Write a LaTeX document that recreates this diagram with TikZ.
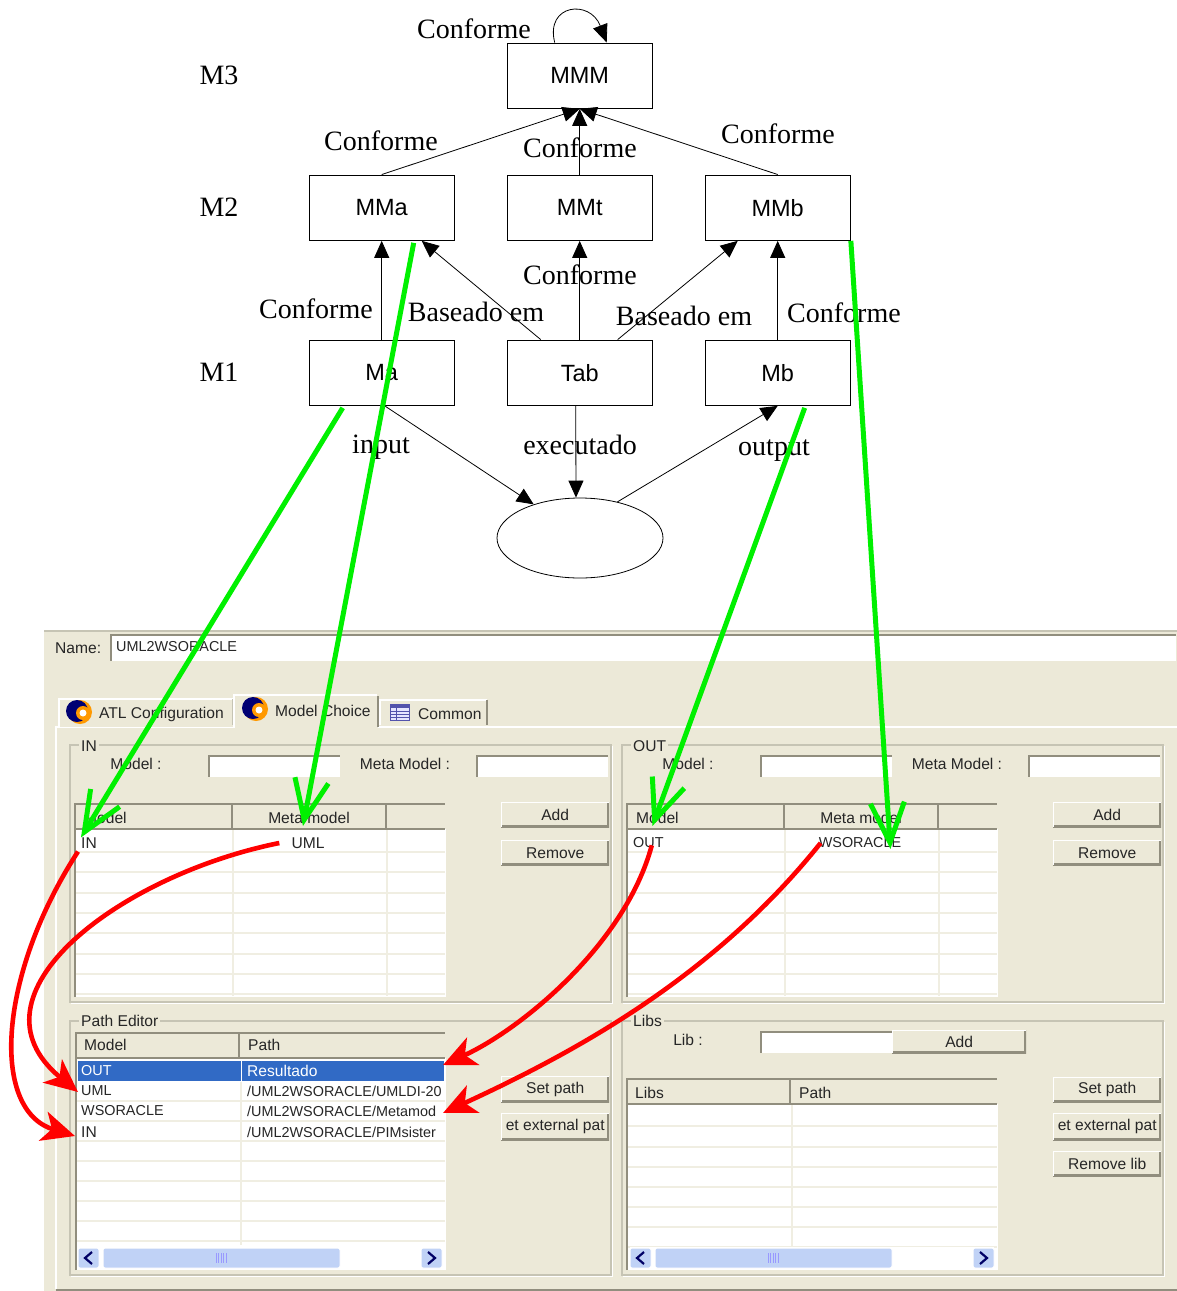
\documentclass[tikz,border=0pt]{standalone}
\usepackage{fontspec}
\setmainfont{Liberation Serif}
\setsansfont{Liberation Sans}
\usetikzlibrary{calc,arrows.meta,shapes.geometric}

\definecolor{guibg}{HTML}{ECE9D8}
\definecolor{guidark}{HTML}{918E7E}
\definecolor{guiline}{HTML}{C6C4B4}
\definecolor{guirow}{HTML}{F0EEE2}
\definecolor{selblue}{HTML}{316AC5}
\definecolor{scrollblue}{HTML}{C0D2F6}
\definecolor{arrowgreen}{HTML}{00F000}

\tikzset{
  level/.style={font=\fontsize{28}{30}\selectfont,inner sep=0pt},
  lbl/.style={font=\fontsize{28}{30}\selectfont,inner sep=0pt},
  box/.style={draw,line width=0.8pt,minimum width=145.5pt,minimum height=65.5pt,inner sep=0pt,
    font=\sffamily\fontsize{23.5}{26}\selectfont},
  link/.style={line width=0.8pt,-{Triangle[length=17pt,width=15pt]}},
  gref/.style={arrowgreen,line width=5pt,-{Straight Barb[length=40pt,width=34pt]}},
  rref/.style={red,line width=4.6pt,-{Stealth[length=33pt,width=30pt,inset=9pt]}},
  gui/.style={font=\sffamily\fontsize{15.6}{18}\selectfont,text=black!85,inner sep=0pt},
  guil/.style={gui,anchor=west},
  caps/.style={font=\sffamily\fontsize{14.4}{18}\selectfont},
  bevel/.style={gui,fill=guibg,inner sep=0pt,anchor=north west,
    path picture={
      \draw[guidark,line width=4pt] (path picture bounding box.south west) -- (path picture bounding box.south east) -- (path picture bounding box.north east);
      \draw[white,line width=2.5pt] (path picture bounding box.south west) -- (path picture bounding box.north west) -- (path picture bounding box.north east);
    }},
  field/.style={fill=white,inner sep=0pt,anchor=north west,
    path picture={
      \draw[guidark,line width=3.5pt] (path picture bounding box.south west) -- (path picture bounding box.north west) -- (path picture bounding box.north east);
    }},
  group/.style={draw=guiline,line width=1.2pt},
  grouplabel/.style={gui,fill=guibg,inner xsep=2pt,anchor=west},
  sunken/.style={draw=guidark,line width=2pt},
  rowline/.style={guirow,line width=1.6pt},
  headline/.style={guidark,line width=2.4pt},
  scrollbtn/.style={fill=scrollblue,draw=white,line width=1pt,rounded corners=2pt},
  chevron/.style={draw=black!60!blue,line width=2.2pt}
}

\begin{document}
\begin{tikzpicture}[x=1pt,y=-1pt]
\useasboundingbox (0,0) rectangle (1177,1291);

% Window
\fill[guibg] (44,630) rectangle (1177,1291);
\draw[guiline,line width=1.5pt] (44,631) -- (1177,631);
\draw[white,line width=1.5pt] (56,1289) -- (56,727) -- (233,727);
\draw[white,line width=1.5pt] (378,727) -- (1177,727);
\draw[guidark,line width=2pt] (56,1290) -- (1177,1290);

\node[guil] (nameLbl) at (55,648) {Name:};
\node[field,minimum width=1066pt,minimum height=27pt] (nameField) at (110,634) {};
\node[guil,caps] (nameText) at (116,647) {UML2WSORACLE};

% Tabs
\fill[guibg] (59,699) rectangle (233,727);
\draw[white,line width=1.5pt] (59,727) -- (59,699) -- (233,699);
\draw[guiline,line width=1.5pt] (233,699) -- (233,725);
\fill[guibg] (234,695) rectangle (378,728);
\draw[white,line width=1.5pt] (234,728) -- (234,695) -- (377,695);
\draw[guidark,line width=2pt] (378,696) -- (378,727);
\draw[white,line width=1.5pt] (380,725) -- (380,700) -- (487,700);
\draw[guidark,line width=2pt] (487,700) -- (487,725);
\foreach \ix/\iy in {79/712,255/709}{
  \fill[orange!80!yellow] (\ix+1,\iy) circle (12);
  \fill[blue!45!black] (\ix-2,\iy-1) circle (11);
  \fill[orange!80!yellow] (\ix+4,\iy+1) circle (7);
  \fill[white] (\ix+4,\iy+1) circle (3.5);
}
\draw[blue!35!gray,fill=blue!10,line width=1pt] (390,704) rectangle (409,720);
\fill[blue!35!gray] (390,704) rectangle (409,708);
\foreach \iy in {711,714,717} \draw[blue!35!gray,line width=.8pt] (390,\iy) -- (409,\iy);
\draw[blue!35!gray,line width=.8pt] (396,708) -- (396,720);
\node[guil] (tabAtl) at (99,714) {ATL Configuration};
\node[guil] (tabModel) at (275,711) {Model Choice};
\node[guil] (tabCommon) at (418,714) {Common};

% IN and OUT groups
\foreach \pre/\title/\sh in {in/IN/0,out/OUT/552}{
\begin{scope}[xshift=\sh pt]
\draw[group] (70,745) rectangle (611,1002);
\draw[white,line width=1pt] (71,1003) -- (612,1003) -- (612,746);
\node[grouplabel] (\pre Group) at (79,746) {\title};
\node[gui] (\pre ModelLbl) at (136,764) {Model :};
\node[field,minimum width=132pt,minimum height=22pt] (\pre ModelField) at (208,755) {};
\node[gui] (\pre MetaLbl) at (405,764) {Meta Model :};
\node[field,minimum width=132pt,minimum height=22pt] (\pre MetaField) at (476,755) {};
\fill[white] (75,829) rectangle (446,997);
\fill[guibg] (75,804) rectangle (446,829);
\foreach \iy in {852,872,893,913,933,954,974,994} \draw[rowline] (76,\iy) -- (445,\iy);
\draw[rowline] (233,830) -- (233,996);
\draw[rowline] (387,830) -- (387,996);
\draw[headline] (75,829) -- (445,829);
\draw[headline] (232,805) -- (232,828);
\draw[headline] (386,805) -- (386,828);
\draw[sunken] (75,997) -- (75,804) -- (445,804);
\node[guil] (\pre HeadModel) at (84,818) {Model};
\node[gui] (\pre HeadMeta) at (309,818) {Meta model};
\node[bevel,minimum width=108pt,minimum height=25pt] (\pre Add) at (501,802) {Add};
\node[bevel,minimum width=108pt,minimum height=25pt] (\pre Remove) at (501,840) {Remove};
\end{scope}
}
\node[guil] (inRowName) at (81,843) {IN};
\node[gui] (inRowMeta) at (308,843) {UML};
\node[guil,caps] (outRowName) at (633,843) {OUT};
\node[gui,caps] (outRowMeta) at (860,843) {WSORACLE};

% Path editor group
\draw[group] (70,1021) rectangle (611,1275);
\draw[white,line width=1pt] (71,1276) -- (612,1276) -- (612,1022);
\node[grouplabel] (pathGroup) at (79,1021) {Path Editor};
\fill[white] (76,1058) rectangle (446,1270);
\fill[guibg] (76,1033) rectangle (446,1058);
\fill[selblue] (78,1061) rectangle (444,1081);
\foreach \iy in {1101,1121,1141,1161,1181,1201,1221,1241} \draw[rowline] (76,\iy) -- (445,\iy);
\draw[rowline] (241,1082) -- (241,1245);
\draw[white,line width=1pt] (241,1060) -- (241,1081);
\draw[headline] (76,1058) -- (445,1058);
\draw[headline] (239,1034) -- (239,1057);
\draw[sunken] (76,1270) -- (76,1033) -- (445,1033);
\node[guil] (pathHeadModel) at (84,1045) {Model};
\node[guil] (pathHeadPath) at (248,1045) {Path};
\node[guil,caps,text=white] (pathRowOut) at (81,1071) {OUT};
\node[guil,text=white] (pathValOut) at (247,1071) {Resultado};
\node[guil,caps] (pathRowUml) at (81,1091) {UML};
\node[guil,caps] (pathRowWs) at (81,1111) {WSORACLE};
\node[guil] (pathRowIn) at (81,1132) {IN};
\begin{scope}
\clip (242,1082) rectangle (444,1145);
\node[guil,caps] (pathValUml) at (247,1091) {/UML2WSORACLE/UMLDI-20};
\node[guil,caps] (pathValWs) at (247,1111) {/UML2WSORACLE/Metamod};
\node[guil,caps] (pathValIn) at (247,1132) {/UML2WSORACLE/PIMsister};
\end{scope}
\node[bevel,minimum width=108pt,minimum height=26pt] (pathSet) at (501,1076) {Set path};
\node[bevel,minimum width=108pt,minimum height=27pt] (pathExt) at (501,1113) {et external pat};
\coordinate (pathOutEnd) at (443,1065);
\coordinate (pathWsEnd) at (443,1113);

% Libs group
\draw[group] (622,1021) rectangle (1163,1275);
\draw[white,line width=1pt] (623,1276) -- (1164,1276) -- (1164,1022);
\node[grouplabel] (libsGroup) at (631,1021) {Libs};
\node[gui] (libLbl) at (688,1040) {Lib :};
\node[field,minimum width=132pt,minimum height=22pt] (libField) at (760,1031) {};
\node[bevel,minimum width=134pt,minimum height=23pt] (libAdd) at (892,1030) {Add};
\fill[white] (627,1104) rectangle (998,1270);
\fill[guibg] (627,1079) rectangle (998,1104);
\foreach \iy in {1126,1147,1167,1187,1207,1227,1247} \draw[rowline] (627,\iy) -- (997,\iy);
\draw[rowline] (792,1105) -- (792,1247);
\draw[headline] (627,1104) -- (997,1104);
\draw[headline] (790,1080) -- (790,1103);
\draw[sunken] (627,1270) -- (627,1079) -- (997,1079);
\node[guil] (libsHeadLibs) at (635,1093) {Libs};
\node[guil] (libsHeadPath) at (799,1093) {Path};
\node[bevel,minimum width=108pt,minimum height=25pt] (libsSet) at (1053,1077) {Set path};
\node[bevel,minimum width=108pt,minimum height=27pt] (libsExt) at (1053,1113) {et external pat};
\node[bevel,minimum width=108pt,minimum height=25pt] (libsRemove) at (1053,1151) {Remove lib};

% Scroll bars
\foreach \sh in {0,552}{
\begin{scope}[xshift=\sh pt]
\fill[white] (78,1247) rectangle (442,1270);
\draw[scrollbtn] (78,1248) rectangle (99,1268);
\draw[scrollbtn] (421,1248) rectangle (442,1268);
\draw[scrollbtn] (103,1248) rectangle (340,1268);
\draw[chevron] (92,1252) -- (85,1258) -- (92,1264);
\draw[chevron] (428,1252) -- (435,1258) -- (428,1264);
\foreach \ix in {216,218.5,221,223.5,226} \draw[blue!40,line width=.8pt] (\ix,1253) -- (\ix,1263);
\end{scope}
}

% M3
\node[level] (levelMiii) at (219,75) {M3};
\node[box] (MMM) at (579.7,75.7) {MMM};
\node[lbl] (lblSelf) at (474,29) {Conforme};
\draw[line width=0.8pt,-{Triangle[length=18pt,width=15pt]}] ([xshift=-25pt]MMM.north) .. controls (545,4) and (590,-1) .. ([xshift=27pt]MMM.north);

% M2
\node[level] (levelMii) at (219,207) {M2};
\node[box] (MMa) at (381.7,207.7) {MMa};
\node[box] (MMt) at (579.7,207.7) {MMt};
\node[box] (MMb) at (777.7,207.7) {MMb};
\node[lbl] (lblA) at (381,141) {Conforme};
\node[lbl] (lblT) at (580,148) {Conforme};
\node[lbl] (lblB) at (778,134) {Conforme};
\draw[link] (MMa.north) -- (MMM.south);
\draw[link] (MMt.north) -- (MMM.south);
\draw[link] (MMb.north) -- (MMM.south);

% M1
\node[level] (levelMi) at (219,372) {M1};
\node[box] (Ma) at (381.7,372.7) {Ma};
\node[box] (Tab) at (579.7,372.7) {Tab};
\node[box] (Mb) at (777.7,372.7) {Mb};
\node[lbl] (lblMa) at (316,309) {Conforme};
\node[lbl] (lblTab) at (580,275) {Conforme};
\node[lbl] (lblMb) at (844,313) {Conforme};
\node[lbl] (lblBaseA) at (476,312) {Baseado em};
\node[lbl] (lblBaseB) at (684,316) {Baseado em};
\draw[link] (Ma.north) -- (MMa.south);
\draw[link] ([xshift=-39pt]Tab.north) -- ([xshift=40pt]MMa.south);
\draw[link] (Tab.north) -- (MMt.south);
\draw[link] ([xshift=38pt]Tab.north) -- ([xshift=-40pt]MMb.south);
\draw[link] (Mb.north) -- (MMb.south);

% Execution
\node[draw,line width=0.8pt,ellipse,minimum width=166pt,minimum height=80pt,inner sep=0pt] (exec) at (580,538) {};
\node[lbl] (lblInput) at (381,447) {input};
\node[lbl] (lblExec) at (580,445) {executado};
\node[lbl] (lblOutput) at (774,451) {output};
\draw[link] ([xshift=3pt]Ma.south) -- (exec.144);
\draw[link] ([xshift=-4pt]Tab.south) -- ([xshift=-4pt]exec.north);
\draw[link] (exec.44) -- (Mb.south);

% Green references
\draw[gref] ([xshift=-39pt,yshift=-2pt]Ma.south) -- (inRowName.north west);
\draw[gref] ([xshift=32pt,yshift=-2pt]MMa.south) -- ([xshift=-6pt,yshift=-2pt]inHeadMeta.south);
\draw[gref] ([xshift=27pt,yshift=-2pt]Mb.south) -- ([xshift=-5pt,yshift=-2pt]outHeadModel.south);
\draw[gref] (MMb.south east) -- ([xshift=-11pt,yshift=-6pt]outRowMeta.east);

% Red references
\draw[rref] ([xshift=-3pt,yshift=-3pt]inRowName.south west) .. controls (-2,975) and (-10,1110) .. ([xshift=-6pt,yshift=-4pt]pathRowIn.west);
\draw[rref] ([xshift=-12pt]inRowMeta.west) .. controls (120,875) and (-40,995) .. ([xshift=-3pt,yshift=-1pt]pathRowUml.west);
\draw[rref] ([xshift=-12pt,yshift=3pt]outRowName.south east) .. controls (625,945) and (520,1030) .. (pathOutEnd);
\draw[rref] ([xshift=2pt]outRowMeta.west) .. controls (715,975) and (580,1050) .. (pathWsEnd);
\end{tikzpicture}
\end{document}
